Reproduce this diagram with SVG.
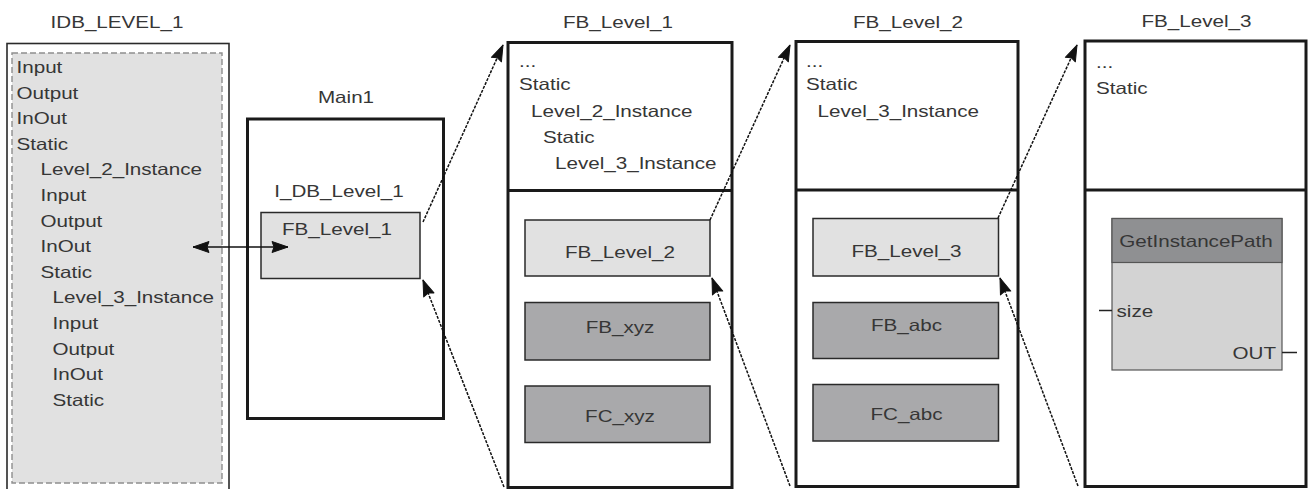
<svg xmlns="http://www.w3.org/2000/svg" width="1308" height="489" viewBox="0 0 1308 489">
<style>
.t{font-family:"Liberation Sans",Arial,sans-serif;font-size:16.5px;fill:#363636}
.m{text-anchor:middle}
.e{text-anchor:end}
.panel{fill:#fff;stroke:#1a1a1a;stroke-width:3}
.div{stroke:#1a1a1a;stroke-width:3}
.light{fill:#e1e1e1;stroke:#2a2a2a;stroke-width:1.5}
.dark{fill:#a9a9ab;stroke:#2a2a2a;stroke-width:1.5}
.arr{fill:none;stroke:#111;stroke-width:1.5;stroke-dasharray:3 1.3;marker-end:url(#ah)}
.pin{stroke:#222;stroke-width:1.5}
</style>
<defs>
<marker id="ah" markerUnits="userSpaceOnUse" markerWidth="20" markerHeight="16" refX="17" refY="8" orient="auto-start-reverse" overflow="visible">
<path d="M1,2.5 L17,8 L1,13.5 L3,8 Z" fill="#111" stroke="#111" stroke-width="1" stroke-linejoin="round"/>
</marker>
</defs>

<g id="idb_level_1">
<text class="t m" transform="translate(117 28) scale(1.25 1)">IDB_LEVEL_1</text>
<rect x="7" y="43.5" width="222" height="460" fill="#fff" stroke="#2a2a2a" stroke-width="1.6"/>
<rect x="12" y="53" width="210" height="430" fill="#e1e1e1" stroke="#8e8e8e" stroke-width="1.4" stroke-dasharray="6 3"/>
<text class="t" transform="translate(16.5 72.5) scale(1.25 1)">Input</text>
<text class="t" transform="translate(16.5 98.5) scale(1.25 1)">Output</text>
<text class="t" transform="translate(16.5 124) scale(1.25 1)">InOut</text>
<text class="t" transform="translate(16.5 149.5) scale(1.25 1)">Static</text>
<text class="t" transform="translate(40.5 175) scale(1.25 1)">Level_2_Instance</text>
<text class="t" transform="translate(40.5 200.5) scale(1.25 1)">Input</text>
<text class="t" transform="translate(40.5 226.5) scale(1.25 1)">Output</text>
<text class="t" transform="translate(40.5 252) scale(1.25 1)">InOut</text>
<text class="t" transform="translate(40.5 277.5) scale(1.25 1)">Static</text>
<text class="t" transform="translate(52.5 303) scale(1.25 1)">Level_3_Instance</text>
<text class="t" transform="translate(52.5 329) scale(1.25 1)">Input</text>
<text class="t" transform="translate(52.5 355) scale(1.25 1)">Output</text>
<text class="t" transform="translate(52.5 380) scale(1.25 1)">InOut</text>
<text class="t" transform="translate(52.5 405.5) scale(1.25 1)">Static</text>
</g>

<g id="main1">
<text class="t m" transform="translate(346 103) scale(1.25 1)">Main1</text>
<rect class="panel" x="247.5" y="119" width="196" height="299.5"/>
<text class="t m" transform="translate(339 197) scale(1.25 1)">I_DB_Level_1</text>
<g id="main1_fb_level_1">
<rect class="light" x="261" y="212.5" width="159" height="66"/>
<text class="t m" transform="translate(337 235) scale(1.25 1)">FB_Level_1</text>
</g>
</g>

<g id="fb_level_1">
<text class="t m" transform="translate(618 28) scale(1.25 1)">FB_Level_1</text>
<rect class="panel" x="508" y="42.5" width="224" height="445"/>
<line class="div" x1="508" y1="190.5" x2="732" y2="190.5"/>
<text class="t" transform="translate(519 66.5) scale(1.25 1)">...</text>
<text class="t" transform="translate(519 90) scale(1.25 1)">Static</text>
<text class="t" transform="translate(531 116.5) scale(1.25 1)">Level_2_Instance</text>
<text class="t" transform="translate(543 142.5) scale(1.25 1)">Static</text>
<text class="t" transform="translate(555 169) scale(1.25 1)">Level_3_Instance</text>
<g id="l1_fb_level_2">
<rect class="light" x="525" y="220" width="185" height="56"/>
<text class="t m" transform="translate(620 258) scale(1.25 1)">FB_Level_2</text>
</g>
<g id="fb_xyz">
<rect class="dark" x="525" y="302.5" width="185" height="57.5"/>
<text class="t m" transform="translate(620 333) scale(1.25 1)">FB_xyz</text>
</g>
<g id="fc_xyz">
<rect class="dark" x="525" y="386" width="185" height="56.5"/>
<text class="t m" transform="translate(620 421.5) scale(1.25 1)">FC_xyz</text>
</g>
</g>

<g id="fb_level_2">
<text class="t m" transform="translate(908 28) scale(1.25 1)">FB_Level_2</text>
<rect class="panel" x="796" y="41.5" width="222" height="445"/>
<line class="div" x1="796" y1="190" x2="1018" y2="190"/>
<text class="t" transform="translate(806 66.5) scale(1.25 1)">...</text>
<text class="t" transform="translate(806 90) scale(1.25 1)">Static</text>
<text class="t" transform="translate(817.5 116.5) scale(1.25 1)">Level_3_Instance</text>
<g id="l2_fb_level_3">
<rect class="light" x="813" y="218.5" width="185.5" height="57.5"/>
<text class="t m" transform="translate(906.5 256.5) scale(1.25 1)">FB_Level_3</text>
</g>
<g id="fb_abc">
<rect class="dark" x="813" y="302.5" width="185.5" height="56"/>
<text class="t m" transform="translate(906.5 330.5) scale(1.25 1)">FB_abc</text>
</g>
<g id="fc_abc">
<rect class="dark" x="813" y="384.5" width="185.5" height="56.5"/>
<text class="t m" transform="translate(906.5 420) scale(1.25 1)">FC_abc</text>
</g>
</g>

<g id="fb_level_3">
<text class="t m" transform="translate(1196.5 26.5) scale(1.25 1)">FB_Level_3</text>
<rect class="panel" x="1085" y="41" width="221" height="445.5"/>
<line class="div" x1="1085" y1="190" x2="1306" y2="190"/>
<text class="t" transform="translate(1096 68) scale(1.25 1)">...</text>
<text class="t" transform="translate(1096 94) scale(1.25 1)">Static</text>
<g id="getinstancepath">
<rect x="1112" y="218.5" width="170" height="151.5" fill="#d3d3d3" stroke="#555" stroke-width="1.2"/>
<rect x="1112" y="218.5" width="170" height="44" fill="#8f9092" stroke="#555" stroke-width="1.2"/>
<text class="t m" transform="translate(1196 246.5) scale(1.25 1)">GetInstancePath</text>
<line class="pin" x1="1099" y1="310.5" x2="1112" y2="310.5"/>
<text class="t" transform="translate(1116.5 316.5) scale(1.25 1)">size</text>
<line class="pin" x1="1282" y1="352.5" x2="1297" y2="352.5"/>
<text class="t e" transform="translate(1276 358.5) scale(1.25 1)">OUT</text>
</g>
</g>

<g id="connectors">
<line x1="193" y1="247" x2="288" y2="247" stroke="#111" stroke-width="1.5" marker-start="url(#ah)" marker-end="url(#ah)"/>
<path class="arr" d="M423,222 L503,45"/>
<path class="arr" d="M504,487 L423,280"/>
<path class="arr" d="M710,220 L790,45"/>
<path class="arr" d="M790,486 L712,278"/>
<path class="arr" d="M998,218 L1077,45"/>
<path class="arr" d="M1078,486 L1000,278"/>
</g>
</svg>
